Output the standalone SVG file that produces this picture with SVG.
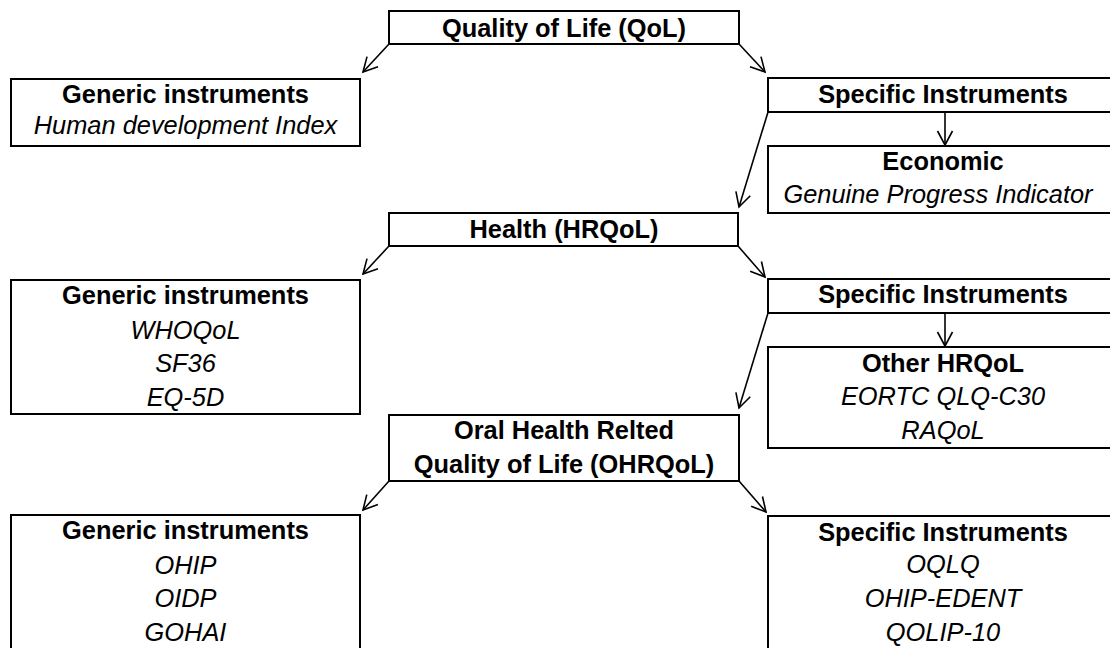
<svg xmlns="http://www.w3.org/2000/svg" width="1110" height="648" viewBox="0 0 1110 648">
<style>
.box{fill:#fff;stroke:#000;stroke-width:2}
.t{font-family:"Liberation Sans",Arial,sans-serif;font-size:25.4px;text-anchor:middle;fill:#000}
.b{font-weight:bold}
.i{font-style:italic}
.c{stroke:#000;stroke-width:1.6;fill:none}
</style>
<defs>
<marker id="ah" markerUnits="userSpaceOnUse" markerWidth="34" markerHeight="34" refX="17" refY="17" orient="auto" overflow="visible">
<path d="M3,9.5 L17,17 L3,24.5" fill="none" stroke="#000" stroke-width="1.6"/>
</marker>
</defs>
<rect width="1110" height="648" fill="#fff"/>
<g id="connectors">
<line class="c" x1="389" y1="44" x2="363" y2="72" marker-end="url(#ah)"/>
<line class="c" x1="739" y1="44" x2="765" y2="72" marker-end="url(#ah)"/>
<line class="c" x1="945" y1="112" x2="945" y2="145" marker-end="url(#ah)"/>
<line class="c" x1="768" y1="112" x2="739" y2="207" marker-end="url(#ah)"/>
<line class="c" x1="389" y1="246" x2="363" y2="274" marker-end="url(#ah)"/>
<line class="c" x1="738" y1="246" x2="765" y2="277" marker-end="url(#ah)"/>
<line class="c" x1="945" y1="313" x2="945" y2="346" marker-end="url(#ah)"/>
<line class="c" x1="768" y1="313" x2="739" y2="408" marker-end="url(#ah)"/>
<line class="c" x1="389" y1="481" x2="363" y2="510" marker-end="url(#ah)"/>
<line class="c" x1="739" y1="481" x2="766" y2="512" marker-end="url(#ah)"/>
</g>
<g id="qol">
<rect class="box" x="389" y="11" width="350" height="33"/>
<text class="t b" x="564" y="37">Quality of Life (QoL)</text>
</g>
<g id="generic1">
<rect class="box" x="11" y="79" width="349" height="67"/>
<text class="t b" x="185.5" y="103">Generic instruments</text>
<text class="t i" x="185.5" y="134">Human development Index</text>
</g>
<g id="specific1">
<rect class="box" x="768" y="78" width="354" height="34"/>
<text class="t b" x="943" y="103">Specific Instruments</text>
</g>
<g id="economic">
<rect class="box" x="768" y="146" width="354" height="67"/>
<text class="t b" x="943" y="170">Economic</text>
<text class="t i" x="938" y="203">Genuine Progress Indicator</text>
</g>
<g id="health">
<rect class="box" x="389" y="213" width="349" height="33"/>
<text class="t b" x="564" y="238">Health (HRQoL)</text>
</g>
<g id="generic2">
<rect class="box" x="11" y="280" width="349" height="134"/>
<text class="t b" x="185.5" y="304">Generic instruments</text>
<text class="t i" x="185.5" y="339">WHOQoL</text>
<text class="t i" x="185.5" y="372">SF36</text>
<text class="t i" x="185.5" y="406">EQ-5D</text>
</g>
<g id="specific2">
<rect class="box" x="768" y="279" width="354" height="34"/>
<text class="t b" x="943" y="303">Specific Instruments</text>
</g>
<g id="otherhrqol">
<rect class="box" x="768" y="347" width="354" height="101"/>
<text class="t b" x="943" y="372">Other HRQoL</text>
<text class="t i" x="943" y="405">EORTC QLQ-C30</text>
<text class="t i" x="943" y="439">RAQoL</text>
</g>
<g id="ohrqol">
<rect class="box" x="389" y="415" width="350" height="66"/>
<text class="t b" x="564" y="439">Oral Health Relted</text>
<text class="t b" x="564" y="473">Quality of Life (OHRQoL)</text>
</g>
<g id="generic3">
<rect class="box" x="11" y="515" width="349" height="150"/>
<text class="t b" x="185.5" y="539">Generic instruments</text>
<text class="t i" x="185.5" y="574">OHIP</text>
<text class="t i" x="185.5" y="607">OIDP</text>
<text class="t i" x="185.5" y="641">GOHAI</text>
</g>
<g id="specific3">
<rect class="box" x="768" y="516" width="354" height="150"/>
<text class="t b" x="943" y="541">Specific Instruments</text>
<text class="t i" x="943" y="573">OQLQ</text>
<text class="t i" x="943" y="607">OHIP-EDENT</text>
<text class="t i" x="943" y="641">QOLIP-10</text>
</g>
</svg>
